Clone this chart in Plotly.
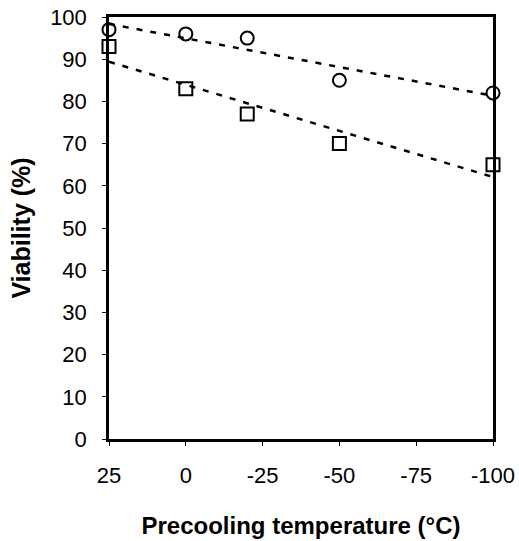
import numpy as np
import plotly.graph_objects as go

temps = [25, 0, -20, -50, -100]
viab_circle = [97, 96, 95, 85, 82]
viab_square = [93, 83, 77, 70, 65]
x_ticks = [25, 0, -25, -50, -75, -100]
y_ticks = list(range(0, 101, 10))

fig = go.Figure()

xfit = np.array([25, -100])
for ys in (viab_circle, viab_square):
    m, b = np.polyfit(temps, ys, 1)
    fig.add_trace(go.Scatter(x=xfit, y=m * xfit + b, mode="lines",
                             line=dict(color="black", width=2.5, dash="6px,8px"),
                             showlegend=False, hoverinfo="skip", cliponaxis=False))

fig.add_trace(go.Scatter(x=temps, y=viab_circle, mode="markers", cliponaxis=False,
                         marker=dict(symbol="circle-open", size=13, color="black",
                                     line=dict(width=2, color="black")), showlegend=False))
fig.add_trace(go.Scatter(x=temps, y=viab_square, mode="markers", cliponaxis=False,
                         marker=dict(symbol="square-open", size=13, color="black",
                                     line=dict(width=2, color="black")), showlegend=False))

font = dict(family="Liberation Sans, Arial, sans-serif", color="black")
fig.update_layout(
    width=519, height=541,
    margin=dict(l=109, r=26, t=17, b=102, autoexpand=False),
    paper_bgcolor="white", plot_bgcolor="white",
    font=dict(**font, size=22),
    xaxis=dict(range=[25, -100], tickvals=x_ticks, ticktext=[str(v) for v in x_ticks],
               automargin=False,
               showgrid=False, zeroline=False, showline=True, linecolor="black", linewidth=2.5,
               mirror=True, ticks="outside", ticklen=4, tickcolor="black",
               tickfont=dict(size=22), ticklabelstandoff=11,
               title=dict(text="<b>Precooling temperature (°C)</b>", font=dict(size=24), standoff=31)),
    yaxis=dict(range=[0, 100], tickvals=y_ticks, showgrid=False, zeroline=False,
               automargin=False,
               showline=True, linecolor="black", linewidth=2.5, mirror=True,
               ticks="outside", ticklen=4, tickcolor="black", ticklabelstandoff=11,
               tickfont=dict(size=22),
               title=dict(text="<b>Viability (%)</b>", font=dict(size=25), standoff=13)),
)

fig.write_html("out.html")
